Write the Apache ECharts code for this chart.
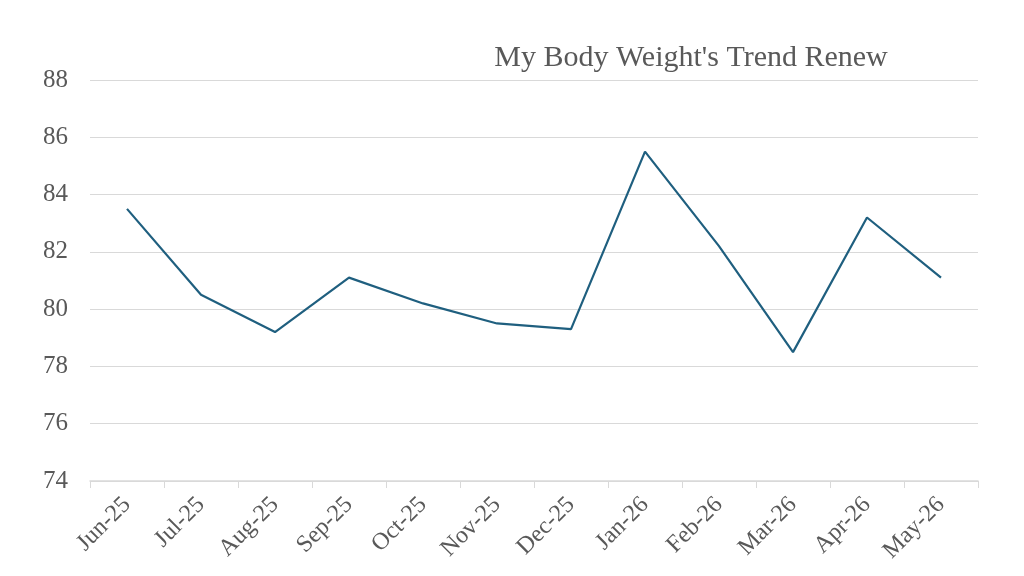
<!DOCTYPE html>
<html>
<head>
<meta charset="utf-8">
<script src="https://cdn.jsdelivr.net/npm/echarts@6/dist/echarts.min.js"></script>
<style>html,body{margin:0;padding:0;background:#fff}#chart{width:1024px;height:576px}</style>
</head>
<body>
<div id="chart"></div>
<script>
var months = ['Jun-25', 'Jul-25', 'Aug-25', 'Sep-25', 'Oct-25', 'Nov-25', 'Dec-25', 'Jan-26', 'Feb-26', 'Mar-26', 'Apr-26', 'May-26'];
var weights = [83.5, 80.5, 79.2, 81.1, 80.2, 79.5, 79.3, 85.5, 82.2, 78.5, 83.2, 81.1];

var myChart = echarts.init(document.getElementById('chart'));
var option = {
    backgroundColor: '#fff',
    textStyle: { fontFamily: 'Liberation Serif' },
    title: {
        text: "My Body Weight's Trend Renew",
        left: 686,
        top: 38,
        textAlign: 'center',
        textStyle: { fontFamily: 'Liberation Serif', fontSize: 30, fontWeight: 'normal', color: '#595959' }
    },
    grid: { left: 90, right: 46, top: 80, bottom: 95 },
    xAxis: {
        type: 'category',
        data: months,
        boundaryGap: true,
        axisLine: { lineStyle: { color: '#d9d9d9', width: 1.5 } },
        axisTick: { show: true, length: 7, lineStyle: { color: '#d9d9d9' } },
        axisLabel: { rotate: 45, fontSize: 24, color: '#595959', margin: 20, fontFamily: 'Liberation Serif' }
    },
    yAxis: {
        type: 'value',
        min: 74,
        max: 88,
        interval: 2,
        axisLine: { show: false },
        axisTick: { show: false },
        splitLine: { lineStyle: { color: '#d9d9d9' } },
        axisLabel: { fontSize: 25, color: '#595959', margin: 22, fontFamily: 'Liberation Serif' }
    },
    series: [{
        type: 'line',
        data: weights,
        symbol: 'none',
        lineStyle: { color: '#1f5f7f', width: 2.2 }
    }]
};
option && myChart.setOption(option);
</script>
</body>
</html>
